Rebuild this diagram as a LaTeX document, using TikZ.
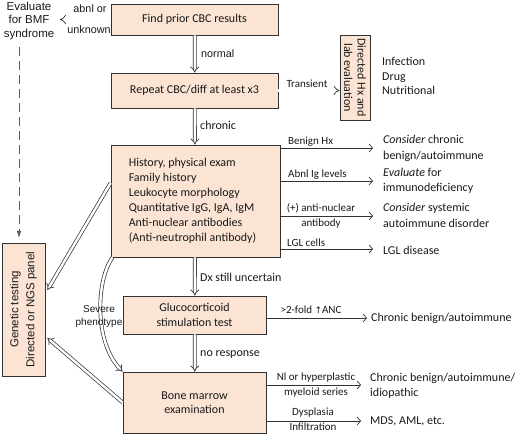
\documentclass[tikz,border=0pt]{standalone}
\usepackage{fontspec}
\setmainfont{Carlito}
\newfontfamily\arialf{Liberation Sans}
\newfontfamily\dejavu{DejaVu Sans}
\usetikzlibrary{arrows.meta,calc}
\definecolor{boxfill}{RGB}{251,228,212}
\definecolor{edge}{RGB}{50,50,50}
\definecolor{txt}{RGB}{25,25,25}
\begin{document}
\begin{tikzpicture}[x=1pt,y=-1pt,
  box/.style={draw=edge, fill=boxfill, line width=0.8pt, inner sep=0pt, align=center, text=txt,
    font=\fontsize{12}{14.5}\selectfont},
  dbl/.style={draw=edge, double=white, double distance=2.4pt, line width=0.7pt, -{Implies}},
  sarr/.style={draw=edge, line width=0.7pt, -{Straight Barb[length=3.5pt,width=8pt]}},
  lbl/.style={font=\fontsize{11}{13.5}\selectfont, inner sep=0pt, text=txt, align=center},
  mlbl/.style={font=\fontsize{12}{14}\selectfont, inner sep=0pt, text=txt, anchor=west},
  alab/.style={font=\arialf\fontsize{10.8}{13}\selectfont, inner sep=0pt, text=txt, align=center},
  rtxt/.style={font=\fontsize{12}{15.5}\selectfont, align=left, inner sep=0pt, anchor=west, text=txt},
  dsh/.style={draw=edge!80, line width=0.8pt, dash pattern=on 9pt off 5pt, -{Latex[length=7pt,width=4.5pt]}}
]
\useasboundingbox (0,0) rectangle (520,435);

% main boxes
\node[box, minimum width=167pt, minimum height=31pt] (find) at (194.5,19.5) {Find prior CBC results};
\node[box, minimum width=167pt, minimum height=35pt] (rep) at (194.5,90.5) {Repeat CBC/diff at least x3};
\node[box, rotate=-90, minimum width=85pt, minimum height=30pt, font=\fontsize{12}{13.5}\selectfont] (dir) at (355,77.5) {Directed Hx and\\lab evaluation};
\node[box, minimum width=169pt, minimum height=112pt] (hist) at (195.5,201) {};
\node[rtxt, font=\fontsize{12}{15}\selectfont] (histtxt) at ($(hist.west)+(18,0)$) {History, physical exam\\Family history\\Leukocyte morphology\\Quantitative IgG, IgA, IgM\\Anti-nuclear antibodies\\(Anti-neutrophil antibody)};
\node[box, minimum width=143pt, minimum height=38pt] (gluc) at (194.5,315) {Glucocorticoid\\stimulation test};
\node[box, minimum width=143pt, minimum height=61pt] (bone) at (194.5,402.5) {Bone marrow\\examination};
\node[box, rotate=90, minimum width=133pt, minimum height=43pt, font=\arialf\fontsize{11.5}{16}\selectfont] (gen) at (23.5,309.5) {Genetic testing\\Directed or NGS panel};

% left text
\node[font=\arialf\fontsize{11.5}{13.5}\selectfont, align=center, inner sep=0pt, text=txt] (bmf) at (29,21) {Evaluate\\for BMF\\syndrome};
\coordinate (bmfend) at (60,19.5);
\draw[dbl] (find.west) -- (bmfend);
\node[alab] (abnl) at (90,9) {abnl or};
\node[alab] (unk) at (89,30) {unknown};

\coordinate (dtop) at (19,47);
\coordinate (dbot) at (19,238);
\draw[dsh] (dtop) -- (dbot);

% infection text
\node[rtxt, font=\fontsize{12}{14.5}\selectfont] (inf) at (382,76) {Infection\\Drug\\Nutritional};

% main flow
\draw[dbl] ($(find.south)+(0.3,0)$) -- ($(rep.north)+(0.2,0)$);
\node[alab, anchor=west] (lnormal) at (201,54) {normal};
\draw[dbl] (rep.east) -- (rep.east -| dir.south);
\node[lbl] (ltrans) at (307,84) {Transient};
\draw[dbl] ($(rep.south)+(0.3,0)$) -- ($(hist.north)+(-0.6,0)$);
\node[mlbl] (lchronic) at (200,125) {chronic};
\draw[dbl] ($(hist.south)+(-0.6,0)$) -- ($(gluc.north)+(0.3,0)$);
\node[mlbl] (ldx) at (200,277) {Dx still uncertain};
\draw[dbl] ($(gluc.south)+(0.3,0)$) -- ($(bone.north)+(0.2,0)$);
\node[mlbl] (lnoresp) at (200,355) {no response};

% right of history box
\node[rtxt] (r1) at (383,148.5) {\textit{Consider} chronic\\benign/autoimmune};
\node[rtxt] (r2) at (383,181) {\textit{Evaluate} for\\immunodeficiency};
\node[rtxt] (r3) at (383,215.5) {\textit{Consider} systemic\\autoimmune disorder};
\node[rtxt] (r4) at (383,250) {LGL disease};
\draw[sarr] (hist.east |- 0,148) -- (373,148) coordinate (a1);
\draw[sarr] (hist.east |- 0,181) -- (373,181) coordinate (a2);
\draw[sarr] (hist.east |- 0,216) -- (373,216) coordinate (a3);
\draw[sarr] (hist.east |- 0,249) -- (373,249) coordinate (a4);
\node[lbl, anchor=west] (l1) at (288,141.5) {Benign Hx};
\node[lbl, anchor=west] (l2) at (288,174.5) {Abnl Ig levels};
\node[lbl] (l3) at (321,216) {(+) anti-nuclear\\[1.5pt]antibody};
\node[lbl, anchor=west] (l4) at (287,243) {LGL cells};

% right of glucocorticoid
\node[rtxt] (r5) at (371,318) {Chronic benign/autoimmune};
\draw[sarr] (gluc.east |- r5.west) -- ($(r5.west)+(-4,0)$);
\node[lbl] (l5) at (311,310) {>2-fold {\dejavu\fontsize{9}{10}\selectfont ↑}ANC};

% right of bone marrow
\node[rtxt] (r6) at (370,386) {Chronic benign/autoimmune/\\idiopathic};
\node[rtxt] (r7) at (370,421) {MDS, AML, etc.};
\draw[sarr] (bone.east |- 0,385) -- (361,385) coordinate (a6);
\draw[sarr] (bone.east |- r7.west) -- ($(r7.west)+(-9,0)$);
\node[lbl] (l6) at (316,385) {Nl or hyperplastic\\[1.5pt]myeloid series};
\node[lbl] (l7) at (313,419.5) {Dysplasia\\[1.5pt]Infiltration};

% to genetic testing
\draw[dbl] ($(hist.west)+(0,-18)$) -- ($(gen.south)+(2,-19.5)$);
\draw[dbl] (bone.west) -- ($(gen.south)+(2,28.5)$);
\draw[dbl] ($(hist.south west)+(2,0)$) .. controls (96,280) and (94,342) .. (bone.north west);
\node[alab, font=\arialf\fontsize{10}{13}\selectfont] (lsev) at (99,316.5) {Severe\\phenotype};
\end{tikzpicture}
\end{document}
